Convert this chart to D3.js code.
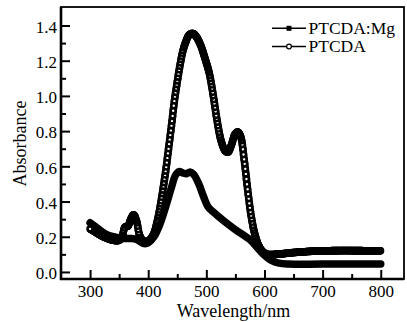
<!DOCTYPE html>
<html lang="en">

<head>
  <meta charset="UTF-8">
  <title>Absorbance</title>
  <script src="https://cdn.jsdelivr.net/npm/d3@7/dist/d3.min.js"></script>
  <style>
    html, body { margin: 0; padding: 0; background: #fff; }
    svg { display: block; }
    text { font-family: "Liberation Serif", "Times New Roman", serif; fill: #000; }
  </style>
</head>

<body>
  <svg width=407 height=322 id="chart"></svg>
  <script>
    // data
    const seriesNames = ['PTCDA:Mg', 'PTCDA'];

    const mgWave = [300, 310, 320, 330, 340, 350, 360, 370, 380, 390, 395, 400, 410, 420, 430, 440, 447, 453, 460, 466, 472, 478,
      487, 495, 503, 512, 530, 550, 576, 590, 600, 612, 625, 640, 700, 800];
    const mgAbs = [0.28, 0.255, 0.23, 0.21, 0.2, 0.195, 0.19, 0.19, 0.185, 0.165, 0.16, 0.165, 0.2, 0.27, 0.37, 0.48, 0.55, 0.57, 0.562, 0.558, 0.568, 0.555,
      0.5, 0.43, 0.37, 0.34, 0.29, 0.24, 0.18, 0.13, 0.095, 0.065, 0.05, 0.045, 0.045, 0.045];

    const ptWave = [300, 310, 320, 330, 340, 350, 355, 360, 365, 370, 375, 380, 385, 390, 395, 400, 405, 410, 415, 420, 425, 430,
      435, 440, 445, 450, 455, 460, 465, 470, 476, 482, 490, 498, 505, 512, 518, 525, 532, 537, 543, 549, 554, 559, 565, 571, 577,
      583, 590, 597, 605, 620, 650, 700, 800];
    const ptAbs = [0.245, 0.225, 0.205, 0.19, 0.18, 0.18, 0.2, 0.255, 0.26, 0.3, 0.325, 0.29, 0.21, 0.18, 0.172, 0.175, 0.19, 0.22, 0.28, 0.36, 0.46, 0.57,
      0.7, 0.83, 0.97, 1.08, 1.18, 1.26, 1.31, 1.345, 1.355, 1.34, 1.29, 1.21, 1.13, 1.0, 0.87, 0.75, 0.69, 0.68, 0.72, 0.78, 0.795, 0.77, 0.64, 0.47, 0.32,
      0.22, 0.15, 0.115, 0.1, 0.1, 0.11, 0.12, 0.12];

    const xTickValues = [300, 400, 500, 600, 700, 800];
    const xMinorValues = [350, 450, 550, 650, 750];
    const yTickValues = [0, 0.2, 0.4, 0.6, 0.8, 1.0, 1.2, 1.4];
    const yMinorValues = [0.1, 0.3, 0.5, 0.7, 0.9, 1.1, 1.3];

    let svg = d3.select('#chart'),
      padLeft = 61,
      padRight = 404,
      padTop = 7,
      padBottom = 279,
      serif = '"Liberation Serif", "Times New Roman", serif';

    let x = d3.scaleLinear().domain([250, 840]).range([padLeft, padRight]);
    let y = d3.scaleLinear().domain([-0.04, 1.505]).range([padBottom, padTop]);

    // ticks point inside the frame
    let xAxis = svg.append('g')
      .attr('transform', `translate(0, ${padBottom})`)
      .call(d3.axisBottom(x).tickValues(xTickValues).tickSize(-9).tickSizeOuter(0).tickPadding(5.5));
    svg.append('g')
      .attr('transform', `translate(0, ${padBottom})`)
      .call(d3.axisBottom(x).tickValues(xMinorValues).tickSize(-5).tickSizeOuter(0).tickFormat(''));

    let yAxis = svg.append('g')
      .attr('transform', `translate(${padLeft}, 0)`)
      .call(d3.axisLeft(y).tickValues(yTickValues).tickSize(-9).tickSizeOuter(0).tickPadding(4).tickFormat(d3.format('.1f')));
    svg.append('g')
      .attr('transform', `translate(${padLeft}, 0)`)
      .call(d3.axisLeft(y).tickValues(yMinorValues).tickSize(-5).tickSizeOuter(0).tickFormat(''));

    svg.selectAll('.domain').remove();
    svg.selectAll('g').attr('font-family', serif).attr('font-size', null);
    svg.selectAll('.tick line').attr('stroke', '#000').attr('stroke-width', 2);
    svg.selectAll('.tick text')
      .attr('font-family', serif)
      .attr('font-size', '17px')
      .attr('fill', '#000');
    yAxis.selectAll('.tick text').attr('dy', '0.4em');

    // frame
    svg.append('rect')
      .attr('x', padLeft).attr('y', padTop)
      .attr('width', padRight - padLeft).attr('height', padBottom - padTop)
      .attr('fill', 'none').attr('stroke', '#000').attr('stroke-width', 1.8);
    svg.append('path')
      .attr('d', `M${padLeft} ${padTop} V${padBottom} H${padRight}`)
      .attr('fill', 'none').attr('stroke', '#000').attr('stroke-width', 2.6);

    let line = d3.line()
      .x(d => x(d[0]))
      .y(d => y(d[1]))
      .curve(d3.curveCatmullRom.alpha(0.5));

    let mgData = d3.zip(mgWave, mgAbs),
      ptData = d3.zip(ptWave, ptAbs);

    // PTCDA:Mg, dense filled squares -> solid thick line
    svg.append('path')
      .datum(mgData)
      .attr('d', line)
      .attr('fill', 'none')
      .attr('stroke', '#000')
      .attr('stroke-width', 7.5)
      .attr('stroke-linejoin', 'round')
      .attr('stroke-linecap', 'round');

    // PTCDA, dense open circles drawn from 800 back to 300
    let ptPath = svg.append('path')
      .datum(ptData)
      .attr('d', line)
      .attr('fill', 'none')
      .attr('stroke', '#000')
      .attr('stroke-width', 7.5);

    let node = ptPath.node(),
      total = node.getTotalLength(),
      step = x(301) - x(300),
      nextX = x(800),
      marks = [];
    for (let l = total; l > 0; l -= 0.2) {
      let p = node.getPointAtLength(l);
      if (p.x <= nextX) {
        marks.push(p);
        nextX -= step;
      }
    }
    marks.push(node.getPointAtLength(0));

    svg.append('g')
      .selectAll('circle')
      .data(marks)
      .enter()
      .append('circle')
      .attr('cx', d => d.x)
      .attr('cy', d => d.y)
      .attr('r', 2.5)
      .attr('fill', '#fff')
      .attr('stroke', '#000')
      .attr('stroke-width', 2.6);

    // legend
    let legend = svg.append('g').attr('transform', 'translate(272, 28.3)');
    seriesNames.forEach((name, i) => {
      let row = legend.append('g').attr('transform', `translate(0, ${i * 18.2})`);
      row.append('line')
        .attr('x1', 0).attr('x2', 34)
        .attr('stroke', '#000').attr('stroke-width', 1.6);
      if (i === 0) {
        row.append('rect')
          .attr('x', 14.5).attr('y', -2.5)
          .attr('width', 5).attr('height', 5)
          .attr('fill', '#000');
      } else {
        row.append('circle')
          .attr('cx', 17).attr('r', 2.4)
          .attr('fill', '#fff').attr('stroke', '#000').attr('stroke-width', 1.3);
      }
      row.append('text')
        .attr('x', 36.5)
        .attr('y', 5.7)
        .attr('font-size', '17.5px')
        .text(name);
    });

    // axis titles
    svg.append('text')
      .attr('x', (padLeft + padRight) / 2 + 1)
      .attr('y', 317)
      .attr('text-anchor', 'middle')
      .attr('font-size', '18px')
      .text('Wavelength/nm');

    svg.append('text')
      .attr('transform', 'translate(26, 143.5) rotate(-90)')
      .attr('text-anchor', 'middle')
      .attr('font-size', '18px')
      .text('Absorbance');
  </script>
</body>

</html>
